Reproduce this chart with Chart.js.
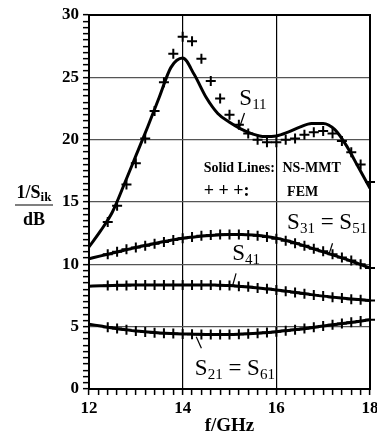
<!DOCTYPE html>
<html>
<head>
<meta charset="utf-8">
<script src="https://cdn.jsdelivr.net/npm/chart.js@4/dist/chart.umd.min.js"></script>
<style>
  body { margin: 0; background: #fff; }
  canvas { display: block; }
</style>
</head>
<body>
<canvas id="c" width="377" height="436"></canvas>
<script>
// NS-MMT (solid lines)
const freqSolid = [12, 12.25, 12.5, 12.75, 13, 13.25, 13.5, 13.75, 14, 14.25, 14.5, 14.75, 15,
  15.25, 15.5, 15.75, 16, 16.25, 16.5, 16.75, 17, 17.25, 17.5, 17.75, 18];
const s11Solid = [11.4, 12.7, 14.2, 16.4, 18.7, 21.0, 23.4, 25.8, 26.55, 25.2, 23.4, 22.1, 21.4,
  20.85, 20.45, 20.25, 20.3, 20.6, 21.0, 21.3, 21.3, 20.8, 19.5, 17.8, 16.1];
const s31Solid = [10.45, 10.68, 10.9, 11.13, 11.35, 11.55, 11.75, 11.93, 12.1, 12.2, 12.3, 12.36, 12.4,
  12.4, 12.35, 12.25, 12.1, 11.87, 11.6, 11.3, 11.0, 10.7, 10.4, 10.05, 9.7];
const s41Solid = [8.25, 8.28, 8.3, 8.33, 8.35, 8.35, 8.35, 8.35, 8.35, 8.35, 8.35, 8.33, 8.3,
  8.23, 8.15, 8.05, 7.95, 7.83, 7.7, 7.57, 7.45, 7.35, 7.25, 7.17, 7.1];
const s21Solid = [5.2, 5.05, 4.9, 4.77, 4.65, 4.57, 4.5, 4.45, 4.42, 4.4, 4.38, 4.38, 4.38,
  4.41, 4.45, 4.52, 4.6, 4.7, 4.8, 4.92, 5.05, 5.17, 5.3, 5.42, 5.55];

// FEM (+ + +)
const freqFem = [12.4, 12.6, 12.8, 13.0, 13.2, 13.4, 13.6, 13.8, 14.0, 14.2, 14.4, 14.6, 14.8, 15.0,
  15.2, 15.4, 15.6, 15.8, 16.0, 16.2, 16.4, 16.6, 16.8, 17.0, 17.2, 17.4, 17.6, 17.8, 18.0];
const s11Fem = [13.4, 14.7, 16.4, 18.1, 20.1, 22.3, 24.6, 26.9, 28.25, 27.9, 26.5, 24.7, 23.3, 22.0,
  21.2, 20.5, 20.0, 19.8, 19.8, 20.0, 20.1, 20.4, 20.6, 20.7, 20.5, 19.9, 19.0, 18.0, 16.6];
const s31Fem = [10.8, 11.0, 11.2, 11.35, 11.5, 11.65, 11.8, 11.95, 12.1, 12.2, 12.3, 12.35, 12.4, 12.4,
  12.4, 12.35, 12.3, 12.2, 12.05, 11.9, 11.7, 11.5, 11.25, 11.05, 10.8, 10.55, 10.3, 10.0, 9.7];
const s41Fem = [8.3, 8.3, 8.3, 8.35, 8.35, 8.35, 8.35, 8.35, 8.35, 8.35, 8.35, 8.35, 8.33, 8.3,
  8.25, 8.2, 8.1, 8.05, 7.95, 7.85, 7.75, 7.65, 7.55, 7.45, 7.35, 7.3, 7.2, 7.15, 7.1];
const s21Fem = [4.95, 4.85, 4.75, 4.65, 4.58, 4.52, 4.48, 4.45, 4.42, 4.4, 4.38, 4.38, 4.38, 4.38,
  4.4, 4.43, 4.48, 4.53, 4.6, 4.68, 4.76, 4.85, 4.95, 5.05, 5.15, 5.25, 5.35, 5.45, 5.55];

const pts = (xs, ys) => xs.map((x, i) => ({ x, y: ys[i] }));

const SERIF = '"Liberation Serif", "Times New Roman", serif';
Chart.defaults.font.family = SERIF;
Chart.defaults.color = "#000";

// text labels in data coordinates
const labels = [
  { at: [15.21, 22.8], parts: [["S"], ["11", 1]] },
  { at: [16.23, 12.8], parts: [["S"], ["31", 1], [" = "], ["S"], ["51", 1]] },
  { at: [15.06, 10.35], parts: [["S"], ["41", 1]] },
  { at: [14.26, 1.12], parts: [["S"], ["21", 1], [" = "], ["S"], ["61", 1]] }
];
const leaders = [
  [15.32, 22.14, 15.21, 20.94],
  [17.2, 11.69, 17.13, 10.88],
  [15.14, 9.28, 15.07, 8.34],
  [14.29, 4.2, 14.4, 3.26]
];
const legendText = [
  ["Solid Lines:", 14.45, 17.4, 14],
  ["NS-MMT", 16.13, 17.4, 14],
  ["+ + +:", 14.45, 15.5, 18],
  ["FEM", 16.23, 15.48, 14]
];

const annotate = {
  id: "annotate",
  afterDatasetsDraw(c) {
    const { ctx, chartArea: a, scales: { x, y } } = c;
    ctx.save();
    ctx.strokeStyle = "#000";
    ctx.lineWidth = 2;
    ctx.strokeRect(a.left, a.top, a.right - a.left, a.bottom - a.top);

    ctx.fillStyle = "#000";
    ctx.textBaseline = "alphabetic";
    for (const lb of labels) {
      let px = x.getPixelForValue(lb.at[0]);
      const py = y.getPixelForValue(lb.at[1]);
      for (const [t, sub] of lb.parts) {
        ctx.font = sub ? `15px ${SERIF}` : `23px ${SERIF}`;
        ctx.fillText(t, px, sub ? py + 4 : py);
        px += ctx.measureText(t).width;
      }
    }
    ctx.lineWidth = 1.2;
    for (const [x1, y1, x2, y2] of leaders) {
      ctx.beginPath();
      ctx.moveTo(x.getPixelForValue(x1), y.getPixelForValue(y1));
      ctx.lineTo(x.getPixelForValue(x2), y.getPixelForValue(y2));
      ctx.stroke();
    }
    for (const [t, fx, fy, size] of legendText) {
      ctx.font = `bold ${size}px ${SERIF}`;
      ctx.fillText(t, x.getPixelForValue(fx), y.getPixelForValue(fy));
    }

    // y axis title: 1/S_ik over dB
    ctx.font = `bold 18px ${SERIF}`;
    const w1 = ctx.measureText("1/S").width;
    ctx.font = `bold 13px ${SERIF}`;
    const w2 = ctx.measureText("ik").width;
    const cx = 34, ly = y.getPixelForValue(15) + 3;
    const sx = cx - (w1 + w2) / 2;
    ctx.font = `bold 18px ${SERIF}`;
    ctx.fillText("1/S", sx, ly - 7);
    ctx.font = `bold 13px ${SERIF}`;
    ctx.fillText("ik", sx + w1, ly - 4);
    ctx.lineWidth = 1.2;
    ctx.beginPath();
    ctx.moveTo(15, ly);
    ctx.lineTo(53, ly);
    ctx.stroke();
    ctx.font = `bold 18px ${SERIF}`;
    ctx.textAlign = "center";
    ctx.fillText("dB", cx, ly + 20);
    ctx.restore();
  }
};

const solid = (ys) => ({
  data: pts(freqSolid, ys),
  borderColor: "#000",
  borderWidth: 3,
  pointRadius: 0,
  cubicInterpolationMode: "monotone",
  showLine: true,
  fill: false
});
const fem = (ys) => ({
  data: pts(freqFem, ys),
  showLine: false,
  pointStyle: "cross",
  pointRadius: 5,
  pointBorderWidth: 2,
  pointBorderColor: "#000",
  pointBackgroundColor: "#000",
  clip: false
});

new Chart(document.getElementById("c"), {
  type: "line",
  data: {
    datasets: [
      solid(s11Solid), solid(s31Solid), solid(s41Solid), solid(s21Solid),
      fem(s11Fem), fem(s31Fem), fem(s41Fem), fem(s21Fem)
    ]
  },
  options: {
    responsive: false,
    animation: false,
    layout: { padding: { top: 15, right: 7, left: 0, bottom: 0 } },
    plugins: { legend: { display: false }, tooltip: { enabled: false } },
    scales: {
      x: {
        type: "linear",
        min: 12,
        max: 18,
        afterFit: (s) => { s.height = 47; s.paddingLeft = 0; s.paddingRight = 0; },
        border: { color: "#000", width: 2 },
        grid: {
          color: (c) => {
            const v = c.tick ? c.tick.value : 0;
            return Math.abs(v - 14) < 1e-6 || Math.abs(v - 16) < 1e-6 ? "#000" : "rgba(0,0,0,0)";
          },
          lineWidth: 1.2,
          tickColor: "#000",
          tickLength: 6,
          tickWidth: 1.5
        },
        ticks: {
          stepSize: 0.2,
          autoSkip: false,
          maxRotation: 0,
          padding: 3,
          font: { size: 17, weight: "bold" },
          callback: (v) => {
            const r = Math.round(v);
            return Math.abs(v - r) < 1e-6 && r % 2 === 0 ? String(r) : "";
          }
        },
        title: {
          display: true,
          text: "f/GHz",
          font: { size: 19, weight: "bold", lineHeight: 1 },
          padding: { top: 0, bottom: 0 }
        }
      },
      y: {
        min: 0,
        max: 30,
        afterFit: (s) => { s.width = 89; s.paddingTop = 0; s.paddingBottom = 0; },
        border: { color: "#000", width: 2 },
        grid: {
          color: (c) => {
            const v = c.tick ? c.tick.value : 1;
            return Math.abs(v % 5) < 1e-6 ? "#555" : "rgba(0,0,0,0)";
          },
          lineWidth: 1.3,
          tickColor: "#000",
          tickLength: 6,
          tickWidth: 1.5
        },
        ticks: {
          stepSize: 0.5,
          autoSkip: false,
          padding: 4,
          font: { size: 17, weight: "bold" },
          callback: (v) => (Math.abs(v % 5) < 1e-6 ? String(v) : "")
        }
      }
    }
  },
  plugins: [annotate]
});
</script>
</body>
</html>
